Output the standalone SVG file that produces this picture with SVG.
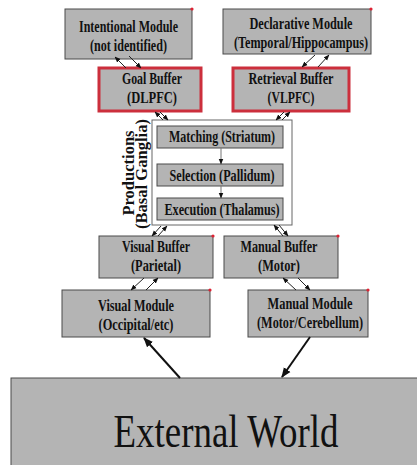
<svg xmlns="http://www.w3.org/2000/svg" width="417" height="465" viewBox="0 0 417 465">
  <defs>
    <marker id="ah" viewBox="0 0 10 10" refX="9" refY="5" markerWidth="6" markerHeight="6" orient="auto" markerUnits="userSpaceOnUse">
      <path d="M0,1 L10,5 L0,9 Z" fill="#111"/>
    </marker>
    <marker id="ahBig" viewBox="0 0 10 10" refX="9" refY="5" markerWidth="10" markerHeight="10" orient="auto" markerUnits="userSpaceOnUse">
      <path d="M0,1 L10,5 L0,9 Z" fill="#111"/>
    </marker>
    <style>
      .box { fill: #b4b4b4; stroke: #4a4a4a; stroke-width: 1; }
      .buf { fill: #b4b4b4; stroke: #cc2f3c; stroke-width: 3; }
      .frame { fill: #ffffff; stroke: #666666; stroke-width: 1; }
      .lbl { font-family: "Liberation Serif", "Times New Roman", serif; font-weight: bold; font-size: 16.5px; fill: #111; text-anchor: middle; }
      .lbl2 { font-family: "Liberation Serif", "Times New Roman", serif; font-weight: bold; font-size: 16px; fill: #111; text-anchor: middle; }
      .big { font-family: "Liberation Serif", "Times New Roman", serif; font-size: 46px; fill: #111; text-anchor: middle; }
      .dot { fill: #dd2233; }
      .con { stroke: #222; stroke-width: 1; fill: none; marker-end: url(#ah); }
      .seq { stroke: #777; stroke-width: 1; fill: none; marker-end: url(#ah); }
      .thick { stroke: #111; stroke-width: 2; fill: none; marker-end: url(#ahBig); }
    </style>
  </defs>
  <rect width="417" height="465" fill="#ffffff"/>

  <g id="intentional">
    <rect class="box" x="65" y="9" width="127" height="50"/>
    <text class="lbl" x="128.5" y="32" textLength="99" lengthAdjust="spacingAndGlyphs">Intentional Module</text>
    <text class="lbl" x="128.5" y="51" textLength="77" lengthAdjust="spacingAndGlyphs">(not identified)</text>
    <circle class="dot" cx="192" cy="9" r="1.6"/>
  </g>

  <g id="declarative">
    <rect class="box" x="223" y="9" width="148" height="45"/>
    <text class="lbl" x="301" y="29" textLength="103" lengthAdjust="spacingAndGlyphs">Declarative Module</text>
    <text class="lbl" x="301" y="48" textLength="134" lengthAdjust="spacingAndGlyphs">(Temporal/Hippocampus)</text>
    <circle class="dot" cx="371" cy="9" r="1.6"/>
  </g>

  <g id="goal-buffer">
    <rect class="buf" x="99" y="68" width="102" height="43"/>
    <text class="lbl" x="152" y="84" textLength="60" lengthAdjust="spacingAndGlyphs">Goal Buffer</text>
    <text class="lbl" x="152" y="103" textLength="50" lengthAdjust="spacingAndGlyphs">(DLPFC)</text>
  </g>

  <g id="retrieval-buffer">
    <rect class="buf" x="233" y="68" width="116" height="43"/>
    <text class="lbl" x="291" y="84" textLength="85" lengthAdjust="spacingAndGlyphs">Retrieval Buffer</text>
    <text class="lbl" x="291" y="103" textLength="47" lengthAdjust="spacingAndGlyphs">(VLPFC)</text>
  </g>

  <g id="productions">
    <rect class="frame" x="152" y="120" width="140" height="105"/>
    <text class="lbl" transform="translate(134,173) rotate(-90)" textLength="85" lengthAdjust="spacingAndGlyphs">Productions</text>
    <text class="lbl" transform="translate(147,174) rotate(-90)" textLength="110" lengthAdjust="spacingAndGlyphs">(Basal Ganglia)</text>
  </g>

  <g id="matching">
    <rect class="box" x="157" y="126" width="126" height="22"/>
    <text class="lbl2" x="222" y="142" textLength="106" lengthAdjust="spacingAndGlyphs">Matching (Striatum)</text>
  </g>

  <g id="selection">
    <rect class="box" x="157" y="164" width="126" height="22"/>
    <text class="lbl2" x="222" y="181" textLength="105" lengthAdjust="spacingAndGlyphs">Selection (Pallidum)</text>
  </g>

  <g id="execution">
    <rect class="box" x="157" y="198" width="126" height="22"/>
    <text class="lbl2" x="222" y="215" textLength="115" lengthAdjust="spacingAndGlyphs">Execution (Thalamus)</text>
  </g>

  <g id="visual-buffer">
    <rect class="box" x="99" y="236" width="114" height="42"/>
    <text class="lbl" x="156" y="252" textLength="68" lengthAdjust="spacingAndGlyphs">Visual Buffer</text>
    <text class="lbl" x="156" y="271" textLength="50" lengthAdjust="spacingAndGlyphs">(Parietal)</text>
    <circle class="dot" cx="213" cy="236" r="1.6"/>
  </g>

  <g id="manual-buffer">
    <rect class="box" x="224" y="236" width="114" height="42"/>
    <text class="lbl" x="279" y="252" textLength="77" lengthAdjust="spacingAndGlyphs">Manual Buffer</text>
    <text class="lbl" x="279" y="271" textLength="42" lengthAdjust="spacingAndGlyphs">(Motor)</text>
    <circle class="dot" cx="338" cy="236" r="1.6"/>
  </g>

  <g id="visual-module">
    <rect class="box" x="62" y="290" width="148" height="47"/>
    <text class="lbl" x="136" y="311" textLength="76" lengthAdjust="spacingAndGlyphs">Visual Module</text>
    <text class="lbl" x="136" y="330" textLength="75" lengthAdjust="spacingAndGlyphs">(Occipital/etc)</text>
    <circle class="dot" cx="210" cy="290" r="1.6"/>
  </g>

  <g id="manual-module">
    <rect class="box" x="248" y="290" width="120" height="47"/>
    <text class="lbl" x="310" y="309" textLength="85" lengthAdjust="spacingAndGlyphs">Manual Module</text>
    <text class="lbl" x="310" y="328" textLength="106" lengthAdjust="spacingAndGlyphs">(Motor/Cerebellum)</text>
    <circle class="dot" cx="368" cy="290" r="1.6"/>
  </g>

  <g id="external-world">
    <rect class="box" x="11" y="378" width="420" height="100"/>
    <text class="big" x="226" y="447" textLength="225" lengthAdjust="spacingAndGlyphs">External World</text>
  </g>

  <g id="connectors">
    <!-- intentional module <-> goal buffer -->
    <line class="con" x1="126" y1="68" x2="115" y2="57"/>
    <line class="con" x1="129" y1="56" x2="141" y2="68"/>
    <!-- declarative module <-> retrieval buffer -->
    <line class="con" x1="315" y1="55" x2="302" y2="67"/>
    <line class="con" x1="318" y1="67" x2="329" y2="55"/>
    <!-- buffers <-> productions -->
    <line class="con" x1="163" y1="120" x2="155" y2="112"/>
    <line class="con" x1="160" y1="112" x2="168" y2="120"/>
    <line class="con" x1="284" y1="112" x2="276" y2="120"/>
    <line class="con" x1="282" y1="120" x2="290" y2="112"/>
    <line class="con" x1="161" y1="226" x2="152" y2="236"/>
    <line class="con" x1="158" y1="236" x2="167" y2="226"/>
    <line class="con" x1="283" y1="236" x2="274" y2="225"/>
    <line class="con" x1="279" y1="225" x2="288" y2="236"/>
    <!-- buffers <-> perceptual/motor modules -->
    <line class="con" x1="144" y1="278" x2="131" y2="290"/>
    <line class="con" x1="146" y1="290" x2="158" y2="278"/>
    <line class="con" x1="296" y1="290" x2="283" y2="278"/>
    <line class="con" x1="298" y1="278" x2="310" y2="290"/>
    <!-- production cycle -->
    <line class="seq" x1="221" y1="148" x2="221" y2="164"/>
    <line class="seq" x1="221" y1="186" x2="221" y2="198"/>
    <!-- external world -->
    <line class="thick" x1="180" y1="378" x2="144" y2="338"/>
    <line class="thick" x1="310" y1="337" x2="282" y2="377"/>
  </g>
</svg>
